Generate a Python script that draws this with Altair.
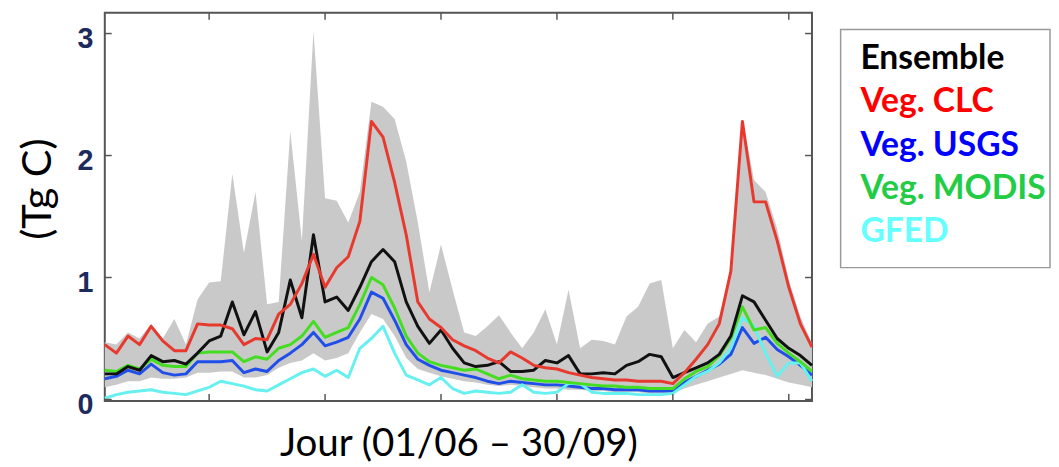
import altair as alt
import pandas as pd

# ---- data ----
day = list(range(2, 123, 2)) + [124]

veg_clc = [0.45,0.38,0.52,0.45,0.60,0.48,0.40,0.40,0.62,0.61,
           0.61,0.58,0.45,0.50,0.49,0.70,0.78,0.95,1.19,0.92,
           1.08,1.17,1.46,2.28,2.15,1.78,1.35,0.80,0.66,0.59,
           0.49,0.44,0.40,0.34,0.30,0.39,0.34,0.28,0.26,0.25,
           0.22,0.20,0.18,0.17,0.16,0.16,0.15,0.15,0.15,0.13,
           0.22,0.33,0.45,0.62,1.05,2.28,1.62,1.62,1.30,0.92,
           0.62,0.43]
ensemble = [0.21,0.21,0.27,0.24,0.36,0.31,0.32,0.29,0.38,0.48,
            0.52,0.80,0.53,0.72,0.39,0.55,0.98,0.67,1.35,0.80,
            0.84,0.73,0.92,1.13,1.23,1.13,0.80,0.60,0.46,0.57,
            0.42,0.30,0.27,0.28,0.31,0.23,0.23,0.24,0.32,0.30,
            0.36,0.21,0.21,0.22,0.21,0.28,0.31,0.37,0.35,0.18,
            0.22,0.26,0.30,0.37,0.52,0.85,0.80,0.65,0.50,0.42,
            0.36,0.28]
veg_modis = [0.24,0.23,0.28,0.25,0.33,0.28,0.27,0.27,0.38,0.39,
             0.39,0.39,0.31,0.35,0.33,0.42,0.45,0.52,0.64,0.51,
             0.55,0.59,0.78,1.00,0.94,0.75,0.52,0.38,0.31,0.28,
             0.26,0.24,0.25,0.21,0.17,0.20,0.17,0.16,0.15,0.15,
             0.14,0.13,0.12,0.11,0.11,0.10,0.10,0.09,0.09,0.09,
             0.17,0.23,0.27,0.36,0.50,0.76,0.57,0.59,0.46,0.38,
             0.31,0.23]
veg_usgs = [0.17,0.19,0.24,0.21,0.29,0.22,0.20,0.21,0.31,0.31,
            0.31,0.32,0.22,0.25,0.23,0.32,0.38,0.45,0.55,0.44,
            0.47,0.51,0.66,0.88,0.83,0.65,0.45,0.33,0.28,0.24,
            0.22,0.20,0.18,0.15,0.13,0.15,0.14,0.13,0.12,0.12,
            0.11,0.10,0.09,0.09,0.08,0.08,0.08,0.07,0.07,0.07,
            0.14,0.19,0.24,0.29,0.37,0.59,0.46,0.51,0.41,0.35,
            0.28,0.20]
gfed = [0.01,0.04,0.06,0.07,0.08,0.06,0.05,0.04,0.07,0.10,
        0.15,0.13,0.11,0.08,0.07,0.12,0.17,0.22,0.25,0.19,
        0.24,0.18,0.42,0.50,0.60,0.38,0.20,0.16,0.12,0.18,
        0.09,0.05,0.07,0.06,0.05,0.06,0.12,0.06,0.05,0.06,
        0.13,0.13,0.06,0.05,0.05,0.05,0.04,0.04,0.04,0.05,
        0.12,0.19,0.23,0.30,0.42,0.67,0.60,0.38,0.19,0.30,
        0.30,0.15]
band_low = [0.10,0.12,0.15,0.15,0.18,0.17,0.17,0.18,0.22,0.22,
            0.23,0.23,0.18,0.18,0.20,0.26,0.30,0.32,0.38,0.32,
            0.34,0.38,0.55,0.70,0.66,0.52,0.34,0.25,0.22,0.19,
            0.17,0.15,0.14,0.12,0.11,0.12,0.11,0.10,0.09,0.09,
            0.08,0.08,0.07,0.07,0.06,0.06,0.06,0.05,0.05,0.05,
            0.09,0.12,0.15,0.18,0.21,0.24,0.22,0.20,0.17,0.14,
            0.12,0.10]
band_high = [0.47,0.45,0.55,0.50,0.62,0.50,0.66,0.45,0.82,0.96,
             0.97,1.85,1.20,1.70,0.78,0.80,2.20,1.30,3.02,1.65,
             1.63,1.45,1.70,2.44,2.40,2.30,1.95,1.45,0.88,1.27,
             0.90,0.55,0.52,0.60,0.69,0.55,0.42,0.55,0.74,0.45,
             0.90,0.42,0.49,0.48,0.45,0.68,0.76,0.95,0.98,0.42,
             0.57,0.47,0.62,0.68,1.05,2.30,1.80,1.70,1.40,0.98,
             0.68,0.46]

y_ticks = [0, 1, 2, 3]
x_ticks = [20, 40, 60, 80, 100, 120]

legend_labels = ["Ensemble", "Veg. CLC", "Veg. USGS", "Veg. MODIS", "GFED"]
legend_colors = ["#000000", "#ff0000", "#0000ff", "#22cc44", "#66ffff"]

# ---- chart ----
df = pd.DataFrame({"day": day, "clc": veg_clc, "ens": ensemble, "modis": veg_modis,
                   "usgs": veg_usgs, "gfed": gfed, "low": band_low, "high": band_high})

W, H = 716, 393
xscale = alt.Scale(domain=[2, 124], nice=False, zero=False)
yscale = alt.Scale(domain=[-0.012, 3.17], nice=False, zero=False)

xaxis = alt.Axis(title="Jour (01/06 – 30/09)", labels=False, ticks=False, tickSize=0,
                 domain=False, grid=False, titleFont="Lato", titleFontSize=39,
                 titleFontWeight="normal", titleColor="#000000", titlePadding=24)
yaxis = alt.Axis(title="(Tg C)", values=y_ticks, format="d", ticks=False, tickSize=0,
                 domain=False, grid=False, labelFont="Liberation Sans", labelFontSize=29,
                 labelFontWeight="bold",
                 labelColor="#1c2a5c", labelPadding=12, labelOffset=5,
                 titleFont="Lato", titleFontSize=42, titleFontWeight="normal",
                 titleColor="#000000", titleX=-46, titleY=178, titleAlign="center",
                 titleBaseline="bottom")

base = alt.Chart(df)
band = base.mark_area(color="#c9c9c9", opacity=1).encode(
    x=alt.X("day:Q", scale=xscale, axis=xaxis),
    y=alt.Y("low:Q", scale=yscale, axis=yaxis),
    y2="high:Q",
)

line_specs = [("usgs", "#1f4fe8"), ("gfed", "#66f0f0"), ("modis", "#44dd22"),
              ("ens", "#111111"), ("clc", "#e8392e")]
lines = [
    base.mark_line(color=c, strokeWidth=3, strokeJoin="round").encode(
        x=alt.X("day:Q", scale=xscale, axis=xaxis),
        y=alt.Y(f"{f}:Q", scale=yscale, axis=yaxis))
    for f, c in line_specs
]

ytdf = pd.DataFrame({"v": y_ticks})
xtdf = pd.DataFrame({"v": x_ticks})
tick_color = "#555555"
ytl = alt.Chart(ytdf).mark_rule(color=tick_color, strokeWidth=1.5).encode(
    y=alt.Y("v:Q", scale=yscale, axis=yaxis), x=alt.value(0), x2=alt.value(7))
ytr = alt.Chart(ytdf).mark_rule(color=tick_color, strokeWidth=1.5).encode(
    y=alt.Y("v:Q", scale=yscale, axis=yaxis), x=alt.value(W - 7), x2=alt.value(W))
xtb = alt.Chart(xtdf).mark_rule(color=tick_color, strokeWidth=1.5).encode(
    x=alt.X("v:Q", scale=xscale, axis=xaxis), y=alt.value(H - 7), y2=alt.value(H))
xtt = alt.Chart(xtdf).mark_rule(color=tick_color, strokeWidth=1.5).encode(
    x=alt.X("v:Q", scale=xscale, axis=xaxis), y=alt.value(0), y2=alt.value(7))

plot = alt.layer(band, *lines, ytl, ytr, xtb, xtt).properties(
    width=W, height=H, view=alt.ViewBackground(stroke="#555555", strokeWidth=2))

legdf = pd.DataFrame({"label": legend_labels, "order": list(range(len(legend_labels)))})
legend = alt.Chart(legdf).mark_text(align="left", baseline="alphabetic", font="Lato",
                                    fontSize=34, fontWeight="bold", dy=7).encode(
    y=alt.Y("order:O", axis=None, scale=alt.Scale(type="point", padding=0.74)),
    x=alt.value(20),
    text="label:N",
    color=alt.Color("label:N", scale=alt.Scale(domain=legend_labels, range=legend_colors), legend=None),
).properties(width=212, height=241, view=alt.ViewBackground(stroke="#999999", strokeWidth=1.5))

spacer = alt.Chart(legdf).mark_point(opacity=0, size=1).encode(
    x=alt.value(50), y=alt.value(7)
).properties(width=212, height=15, view=alt.ViewBackground(stroke="transparent"))

chart = alt.hconcat(plot, alt.vconcat(spacer, legend, spacing=0), spacing=25).properties(
    padding={"left": 8, "top": 0, "right": 0, "bottom": 0}
).configure(background="#ffffff")

chart.save("out.html", embed_options={"renderer": "svg", "actions": False})
